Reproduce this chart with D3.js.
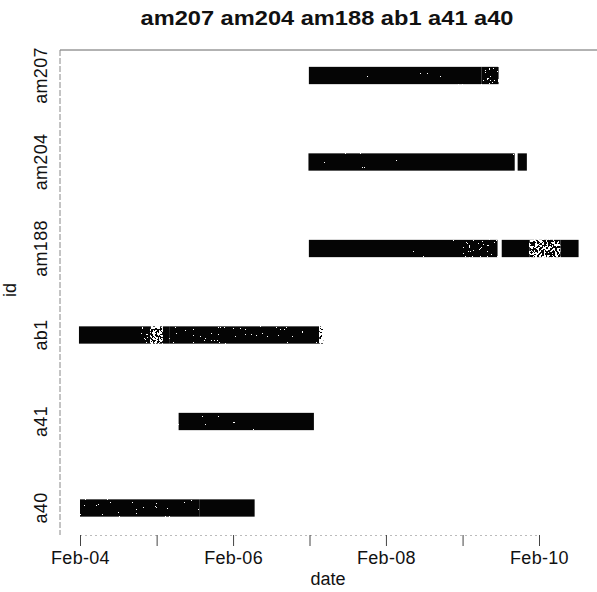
<!DOCTYPE html>
<html>
<head>
<meta charset="utf-8">
<script src="https://cdn.jsdelivr.net/npm/d3@7"></script>
<style>
    body { margin: 0; background: #fff; }
    svg { font-family: "Liberation Sans", Arial, sans-serif; }
    .tick-label { font-size: 18px; fill: #111; letter-spacing: 0.3px; }
    .axis-title { font-size: 18px; fill: #111; }
    .chart-title { font-size: 20px; font-weight: bold; fill: #111; }
</style>
</head>
<body>
<svg width="597" height="592"></svg>
<script>
// ids, listed bottom to top as on the y axis
var ids = ["a40", "a41", "ab1", "am188", "am204", "am207"];

// observation runs: id, first date, last date, share of days covered
var segId = ["am207", "am207",
             "am204", "am204",
             "am188", "am188", "am188", "am188", "am188",
             "ab1", "ab1", "ab1", "ab1", "ab1", "ab1",
             "a41",
             "a40", "a40"];
var segStart = ["2007-01-29", "2009-05-03",
                "2007-01-27", "2009-10-22",
                "2007-01-29", "2009-02-03", "2009-08-07", "2009-12-18", "2010-05-15",
                "2004-01-27", "2004-11-04", "2005-01-01", "2005-03-03", "2005-04-05", "2007-03-20",
                "2005-05-17",
                "2004-02-01", "2005-08-26"];
var segEnd = ["2009-05-03", "2009-07-23",
              "2009-10-08", "2009-12-05",
              "2009-02-03", "2009-07-18", "2009-12-18", "2010-05-15", "2010-08-09",
              "2004-11-04", "2005-01-01", "2005-03-03", "2005-04-05", "2007-03-20", "2007-04-08",
              "2007-02-22",
              "2005-08-26", "2006-05-15"];
var segCover = [0.98, 0.78,
                0.98, 0.95,
                0.98, 0.8, 0.96, 0.52, 0.96,
                0.97, 0.82, 0.45, 0.82, 0.9, 0.4,
                0.98,
                0.88, 0.98];

// x tick dates (every February) and which get a label
var tickDates = ["2004-02-01", "2005-02-01", "2006-02-01", "2007-02-01",
                 "2008-02-01", "2009-02-01", "2010-02-01"];
var tickLabels = ["Feb-04", "", "Feb-06", "", "Feb-08", "", "Feb-10"];

var parse = d3.timeParse("%Y-%m-%d");
var segments = segId.map(function (id, i) {
    return { id: id, start: parse(segStart[i]), end: parse(segEnd[i]), cover: segCover[i] };
});

// SVG settings (note: "top" is reserved on window, so use plot* names)
var svg = d3.select("svg"),
    plotLeft = 60, plotRight = 597, plotTop = 50, plotBottom = 535;

var xScale = d3.scaleTime()
    .domain([parse(tickDates[0]), parse(tickDates[tickDates.length - 1])])
    .range([80, 539]);
var yScale = d3.scalePoint().domain(ids).range([508, 75.5]);
var barH = yScale.step() * 0.2;

// speckle texture: white noise dots, more of them where coverage is lower
var defs = svg.append("defs");
segments.forEach(function (d, i) {
    var white = 1 - d.cover,
        t = 0.5 + (0.5 - white) * 0.65,
        n = 50,
        table = d3.range(n).map(function (k) { return k / n >= t ? 1 : 0; });
    var f = defs.append("filter")
        .attr("id", "speck" + i)
        .attr("x", 0).attr("y", 0).attr("width", 1).attr("height", 1)
        .attr("color-interpolation-filters", "sRGB");
    f.append("feTurbulence")
        .attr("type", "fractalNoise")
        .attr("baseFrequency", 0.45)
        .attr("numOctaves", 2)
        .attr("seed", i + 3);
    f.append("feColorMatrix")
        .attr("type", "matrix")
        .attr("values", "0 0 0 0 1  0 0 0 0 1  0 0 0 0 1  1 0 0 0 0");
    f.append("feComponentTransfer")
        .append("feFuncA")
        .attr("type", "discrete")
        .attr("tableValues", table.join(" "));
});

// plot frame (faint, like the scanned original)
svg.append("line")
    .attr("x1", plotLeft).attr("x2", plotRight).attr("y1", plotTop).attr("y2", plotTop)
    .attr("stroke", "#666").attr("stroke-width", 1);
svg.append("line")
    .attr("x1", plotLeft).attr("x2", plotLeft).attr("y1", plotTop).attr("y2", plotBottom)
    .attr("stroke", "#888").attr("stroke-width", 1).attr("stroke-dasharray", "6,2");

// bars
var bars = svg.append("g")
    .selectAll("g")
    .data(segments)
    .enter()
    .append("g");
bars.append("rect")
    .attr("x", function (d) { return xScale(d.start); })
    .attr("width", function (d) { return xScale(d.end) - xScale(d.start); })
    .attr("y", function (d) { return yScale(d.id) - barH / 2; })
    .attr("height", barH)
    .attr("fill", "#050505");
bars.append("rect")
    .attr("x", function (d) { return xScale(d.start); })
    .attr("width", function (d) { return xScale(d.end) - xScale(d.start); })
    .attr("y", function (d) { return yScale(d.id) - barH / 2; })
    .attr("height", barH)
    .attr("fill", "#fff")
    .attr("filter", function (d, i) { return "url(#speck" + i + ")"; });

// x axis
var xAxis = svg.append("g")
    .attr("transform", "translate(0," + plotBottom + ")")
    .call(d3.axisBottom(xScale)
        .tickValues(tickDates.map(parse))
        .tickSize(11)
        .tickPadding(5)
        .tickFormat(function (d, i) { return tickLabels[i]; }));
xAxis.select(".domain")
    .attr("stroke", "#bbb")
    .attr("stroke-dasharray", "2,3");
xAxis.selectAll(".tick line").attr("stroke", "#444");
xAxis.selectAll(".tick text")
    .attr("class", "tick-label")
    .attr("font-family", null)
    .attr("font-size", null)
    .attr("fill", null);

// y labels (rotated like R's default)
svg.append("g")
    .selectAll("text")
    .data(ids)
    .enter()
    .append("text")
    .attr("class", "tick-label")
    .attr("text-anchor", "middle")
    .attr("transform", function (d) { return "translate(47," + yScale(d) + ") rotate(-90)"; })
    .text(function (d) { return d; });

// axis titles
svg.append("text")
    .attr("class", "axis-title")
    .attr("text-anchor", "middle")
    .attr("x", 328).attr("y", 585)
    .text("date");
svg.append("text")
    .attr("class", "axis-title")
    .attr("text-anchor", "middle")
    .attr("transform", "translate(16,290) rotate(-90)")
    .text("id");

// title
svg.append("text")
    .attr("class", "chart-title")
    .attr("text-anchor", "middle")
    .attr("x", 327).attr("y", 25)
    .attr("textLength", 373)
    .attr("lengthAdjust", "spacingAndGlyphs")
    .text(ids.slice().reverse().join(" "));
</script>
</body>
</html>
